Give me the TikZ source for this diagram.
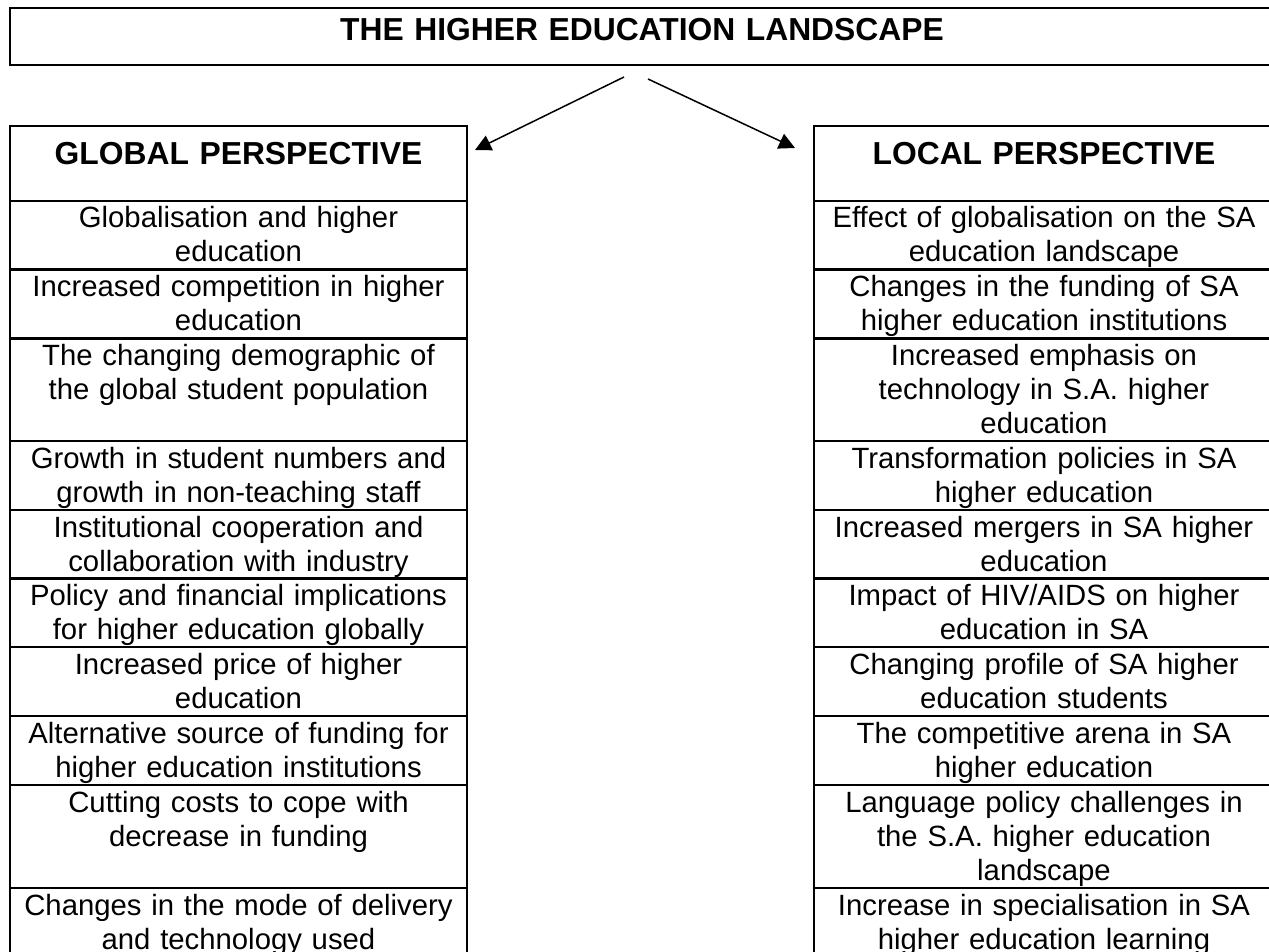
\documentclass[tikz,border=0pt]{standalone}
\usepackage{fontspec}
\setmainfont{Liberation Sans}
\usetikzlibrary{arrows.meta}

\begin{document}
\begin{tikzpicture}[x=0.5pt, y=-0.5pt,
    box/.style={draw, line width=1pt, rectangle, inner sep=0pt, anchor=north west, align=center},
    cell/.style={box, text width=228.5pt, font=\fontsize{14.65}{17}\selectfont, text height=13.5pt, text depth=20.75pt},
    tallcell/.style={cell, text depth=38pt},
    head/.style={box, text width=228.5pt, font=\fontsize{15.9}{18.4}\selectfont\bfseries, text height=19.5pt, text depth=18pt},
    rightcol/.style={text width=230pt},
    link/.style={-{Triangle[length=8pt, width=8pt]}, line width=0.75pt}]
    \useasboundingbox (0,0) rectangle (1269,952);

    % Title
    \node[box, text width=632pt, font=\fontsize{15.9}{18.4}\selectfont\bfseries, text height=16.25pt, text depth=12pt] at (9,7.5) (title) {THE HIGHER EDUCATION LANDSCAPE};

    % Headers
    \node[head] at (9,125) (global) {GLOBAL PERSPECTIVE};
    \node[head, rightcol] at (813,125) (local) {LOCAL PERSPECTIVE};

    % Global column
    \node[cell] at (9,200) (g1) {Globalisation and higher\\education};
    \node[cell] at (9,269) (g2) {Increased competition in higher\\education};
    \node[tallcell] at (9,337) (g3) {The changing demographic of\\the global student population};
    \node[cell] at (9,440) (g4) {Growth in student numbers and\\growth in non-teaching staff};
    \node[cell] at (9,509) (g5) {Institutional cooperation and\\collaboration with industry};
    \node[cell] at (9,577) (g6) {Policy and financial implications\\for higher education globally};
    \node[cell] at (9,646) (g7) {Increased price of higher\\education};
    \node[cell] at (9,715) (g8) {Alternative source of funding for\\higher education institutions};
    \node[tallcell] at (9,784) (g9) {Cutting costs to cope with\\decrease in funding};
    \node[cell] at (9,887) (g10) {Changes in the mode of delivery\\and technology used};

    % Local column
    \node[cell, rightcol] at (813,200) (l1) {Effect of globalisation on the SA\\education landscape};
    \node[cell, rightcol] at (813,269) (l2) {Changes in the funding of SA\\higher education institutions};
    \node[tallcell, rightcol] at (813,337) (l3) {Increased emphasis on\\technology in S.A. higher\\education};
    \node[cell, rightcol] at (813,440) (l4) {Transformation policies in SA\\higher education};
    \node[cell, rightcol] at (813,509) (l5) {Increased mergers in SA higher\\education};
    \node[cell, rightcol] at (813,577) (l6) {Impact of HIV/AIDS on higher\\education in SA};
    \node[cell, rightcol] at (813,646) (l7) {Changing profile of SA higher\\education students};
    \node[cell, rightcol] at (813,715) (l8) {The competitive arena in SA\\higher education};
    \node[tallcell, rightcol] at (813,784) (l9) {Language policy challenges in\\the S.A. higher education\\landscape};
    \node[cell, rightcol] at (813,887) (l10) {Increase in specialisation in SA\\higher education learning};

    % Arrows
    \coordinate (splitL) at ([xshift=-9pt, yshift=-5.5pt]title.south);
    \coordinate (splitR) at ([xshift=3pt, yshift=-6.5pt]title.south);
    \coordinate (tipL) at ([xshift=3.5pt, yshift=-12.5pt]global.north east);
    \coordinate (tipR) at ([xshift=-9pt, yshift=-11.5pt]local.north west);
    \draw[link] (splitL) -- (tipL);
    \draw[link] (splitR) -- (tipR);
\end{tikzpicture}
\end{document}
